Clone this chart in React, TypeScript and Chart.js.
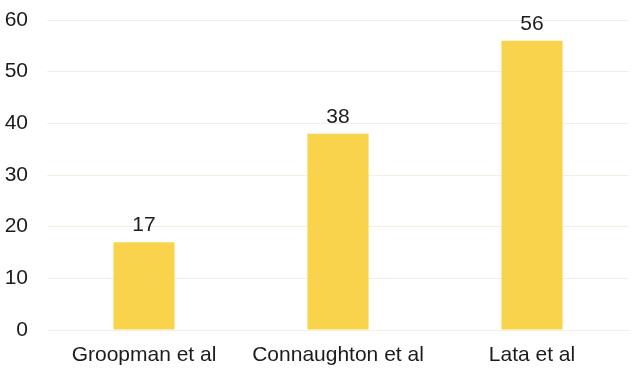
import React, { useEffect, useRef } from "react";
import { Chart, registerables } from "chart.js";

Chart.register(...registerables);

const categories = ["Groopman et al", "Connaughton et al", "Lata et al"];
const values = [17, 38, 56];
const yTicks = [0, 10, 20, 30, 40, 50, 60];

const FONT = "'Liberation Sans', Arial, sans-serif";

const valueLabels = {
  id: "valueLabels",
  afterDatasetsDraw(chart: any) {
    const ctx = chart.ctx;
    const meta = chart.getDatasetMeta(0);
    ctx.save();
    ctx.font = `21px ${FONT}`;
    ctx.fillStyle = "#1c1c1c";
    ctx.textAlign = "center";
    ctx.textBaseline = "alphabetic";
    meta.data.forEach((bar: any, i: number) => {
      ctx.fillText(String(values[i]), bar.x, bar.y - 11);
    });
    ctx.restore();
  },
};

export default function App() {
  const ref = useRef<HTMLCanvasElement | null>(null);
  useEffect(() => {
    if (!ref.current) return;
    const chart = new Chart(ref.current, {
      type: "bar",
      data: {
        labels: categories,
        datasets: [
          {
            data: values,
            backgroundColor: "#F8D34B",
            borderWidth: 0,
            barPercentage: 0.63,
            categoryPercentage: 0.5,
          },
        ],
      },
      options: {
        responsive: false,
        animation: false,
        layout: { padding: { top: 20, right: 12, left: 0, bottom: 0 } },
        plugins: { legend: { display: false }, tooltip: { enabled: false } },
        scales: {
          x: {
            grid: { display: false, drawTicks: false },
            border: { display: true, color: "#F2F0DE", width: 1 },
            ticks: {
              color: "#1c1c1c",
              font: { family: FONT, size: 21 },
              padding: 13,
              maxRotation: 0,
            },
            afterFit(scale: any) {
              scale.height = 45;
              scale.paddingLeft = 0;
              scale.paddingRight = 0;
            },
          },
          y: {
            min: 0,
            max: 60,
            afterBuildTicks(scale: any) {
              scale.ticks = yTicks.map((v) => ({ value: v }));
            },
            grid: { color: "#F2F0DE", drawTicks: false, lineWidth: 1 },
            border: { display: false },
            ticks: {
              color: "#1c1c1c",
              font: { family: FONT, size: 21 },
              padding: 19,
            },
            afterFit(scale: any) {
              scale.width = 47;
              scale.paddingTop = 0;
              scale.paddingBottom = 0;
            },
          },
        },
      },
      plugins: [valueLabels],
    });
    return () => chart.destroy();
  }, []);
  return (
    <div style={{ position: "fixed", left: 0, top: 0, width: 641, height: 375, background: "#fff" }}>
      <canvas ref={ref} width={641} height={375} style={{ display: "block" }} />
    </div>
  );
}
